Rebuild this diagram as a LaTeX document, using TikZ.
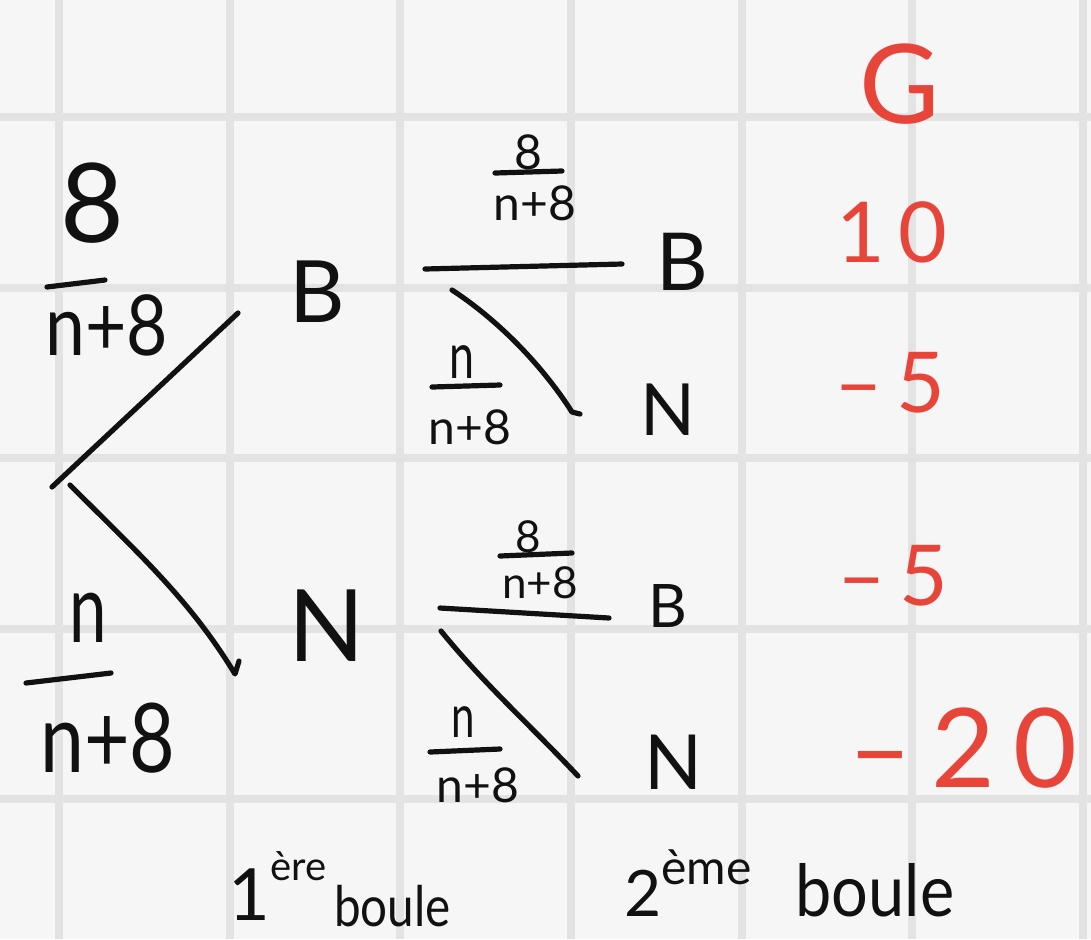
\documentclass[tikz,border=0pt]{standalone}
\usepackage{fontspec}
\setmainfont{Lato}
\usepackage{graphicx}
\definecolor{paper}{HTML}{F6F6F6}
\definecolor{gridc}{HTML}{E3E3E3}
\definecolor{inkc}{HTML}{111111}
\definecolor{redink}{HTML}{E8453A}
\tikzset{
  fsz/.style={font=\fontsize{#1}{#1}\selectfont},
  lbl/.style={text=inkc, inner sep=0pt},
  val/.style={text=redink, inner sep=0pt},
  stroke/.style={draw=inkc, line width=2.6pt, line cap=round, line join=round},
  gridline/.style={draw=gridc, line width=4pt},
}
\begin{document}
\begin{tikzpicture}[x=0.5pt,y=-0.5pt]
\fill[paper] (0,0) rectangle (1091,939);
\useasboundingbox (0,0) rectangle (1091,939);
\foreach \gx in {59,230,400,571,742,912,1083} \draw[gridline] (\gx,0) -- (\gx,939);
\foreach \gy in {117,288,458,629,799} \draw[gridline] (0,\gy) -- (1091,\gy);

% first level labels
\node[lbl,fsz=43] (B1) at (317,292) {B};
\node[lbl,fsz=50] (N1) at (327,626) {N};
% second level labels
\node[lbl,fsz=40] (B2) at (682,262) {B};
\node[lbl,fsz=36] (N2) at (668,410) {N};
\node[lbl,fsz=30] (B3) at (668,606) {B};
\node[lbl,fsz=38] (N3) at (674,762) {N};

% gains
\node[val,fsz=55] (G) at (900,84) {G};
\node[val,fsz=42] (v1) at (892,232) {1\,0};
\node[val,fsz=42] (v2) at (890,383) {–\,5};
\node[val,fsz=42] (v3) at (893,576) {–\,5};
\node[val,fsz=55] (v4) at (963,748) {–\,2\,0};

% first level branches
\coordinate (r1) at (52,487);
\coordinate (r2) at (70,485);
\coordinate (e1) at (238,313);
\coordinate (e2) at (235,674);
\coordinate (e2t) at (239,661);
\draw[stroke] (r1) -- (e1);
\draw[stroke] (r2) .. controls (140,555) and (190,600) .. (e2) -- (e2t);

% fraction 8/(n+8), top left
\node[lbl,fsz=55] (fAn) at (92,203) {8};
\draw[stroke] (47,287) -- (105,280);
\node[lbl,fsz=42] (fAd) at (107,325) {\scalebox{0.85}[1]{n+8}};
% fraction n/(n+8), bottom left
\node[lbl,fsz=48] (fBn) at (88,618) {\scalebox{0.7}[1]{n}};
\draw[stroke] (26,683) -- (111,673);
\node[lbl,fsz=48] (fBd) at (108,738) {\scalebox{0.82}[1]{n+8}};

% second level from B
\coordinate (b1a) at (425,269);
\coordinate (b1b) at (622,264);
\coordinate (b1c) at (452,290);
\coordinate (b1d) at (572,412);
\coordinate (b1e) at (580,414);
\draw[stroke] (b1a) -- (b1b);
\draw[stroke] (b1c) .. controls (495,318) and (540,362) .. (b1d) -- (b1e);
\node[lbl,fsz=24] (fCn) at (528,152) {8};
\draw[stroke] (495,173) -- (562,171);
\node[lbl,fsz=24] (fCd) at (535,203) {n+8};
\node[lbl,fsz=32] (fDn) at (462,362) {\scalebox{0.7}[1]{n}};
\draw[stroke] (432,387) -- (500,385);
\node[lbl,fsz=24] (fDd) at (470,427) {n+8};

% second level from N
\coordinate (n1a) at (440,608);
\coordinate (n1b) at (609,618);
\coordinate (n1c) at (441,631);
\coordinate (n1d) at (578,776);
\draw[stroke] (n1a) -- (n1b);
\draw[stroke] (n1c) .. controls (485,685) and (530,725) .. (n1d);
\node[lbl,fsz=22] (fEn) at (528,537) {8};
\draw[stroke] (500,556) -- (572,553);
\node[lbl,fsz=22] (fEd) at (540,583) {n+8};
\node[lbl,fsz=30] (fFn) at (463,722) {\scalebox{0.7}[1]{n}};
\draw[stroke] (430,752) -- (500,749);
\node[lbl,fsz=24] (fFd) at (478,785) {n+8};

% bottom captions
\node[lbl,fsz=36,anchor=base west] (t1) at (228,920)
  {1\raisebox{20pt}{\fontsize{20}{20}\selectfont ère}\hspace{4pt}\raisebox{-3pt}{\fontsize{28}{28}\selectfont\scalebox{0.85}[1]{boule}}};
\node[lbl,fsz=32,anchor=base west] (t2) at (624,916)
  {2\raisebox{16pt}{\fontsize{24}{24}\selectfont ème}\hspace{22pt}{\fontsize{36}{36}\selectfont\scalebox{0.9}[1]{boule}}};
\end{tikzpicture}
\end{document}
